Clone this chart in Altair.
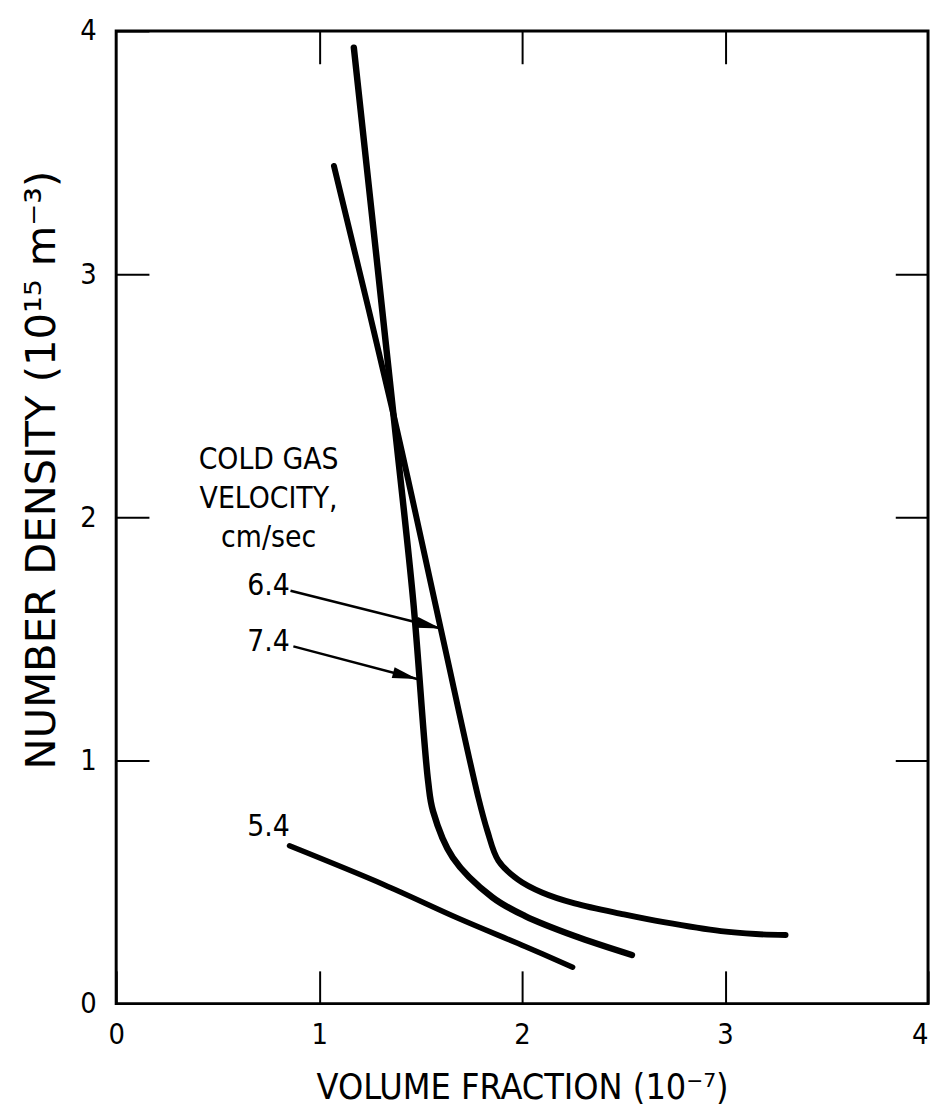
import altair as alt
import pandas as pd

# ---- data ----
series_names = ["7.4", "6.4", "5.4"]

vf_74 = [1.171, 1.366, 1.463, 1.537, 1.561, 1.659, 1.854, 2.015, 2.259, 2.541]
nd_74 = [3.931, 2.424, 1.661, 0.914, 0.792, 0.600, 0.437, 0.360, 0.278, 0.200]

vf_64 = [1.073, 1.366, 1.600, 1.785, 1.829, 1.883, 1.980, 2.098, 2.259, 2.502, 2.698, 2.980, 3.151, 3.298]
nd_64 = [3.445, 2.424, 1.539, 0.845, 0.710, 0.588, 0.510, 0.457, 0.412, 0.367, 0.335, 0.298, 0.286, 0.282]

vf_54 = [0.854, 1.317, 1.688, 2.015, 2.249]
nd_54 = [0.649, 0.490, 0.350, 0.235, 0.150]

# annotation text
label_text = ["COLD GAS", "VELOCITY,", "cm/sec", "6.4", "7.4", "5.4"]
label_x = [0.751, 0.751, 0.751, 0.751, 0.751, 0.751]
label_y = [2.200, 2.037, 1.878, 1.682, 1.449, 0.690]

# leader lines (label -> curve)
leader_x1 = [0.859, 0.873]
leader_y1 = [1.698, 1.469]
leader_x2 = [1.600, 1.483]
leader_y2 = [1.543, 1.335]
arrow_angle = [14.0, 14.8]

x_ticks = [0, 1, 2, 3, 4]
y_ticks = [0, 1, 2, 3, 4]
inner_ticks = [1, 2, 3]

# ---- tables ----
rows = []
for name, xs, ys in zip(series_names, [vf_74, vf_64, vf_54], [nd_74, nd_64, nd_54]):
    for i, (a, b) in enumerate(zip(xs, ys)):
        rows.append({"series": name, "vf": a, "nd": b, "order": i})
curves = pd.DataFrame(rows)

labels = pd.DataFrame({"text": label_text, "x": label_x, "y": label_y})
leaders = pd.DataFrame({"x1": leader_x1, "y1": leader_y1, "x2": leader_x2, "y2": leader_y2, "ang": arrow_angle})

F = "Liberation Sans Narrow, DejaVu Sans Condensed, sans-serif"
FW = "DejaVu Sans, sans-serif"

xs = alt.Scale(domain=[0, 4], nice=False, zero=False)
ys = alt.Scale(domain=[0, 4], nice=False, zero=False)

common = dict(domain=False, grid=False, tickColor="black", tickWidth=2,
              offset=-33, tickSize=33, labelFlush=False)

ax_bottom = alt.Axis(orient="bottom", values=x_ticks, labelFont=F, labelFontSize=29,
                     labelColor="black", labelPadding=17,
                     labelAlign={"condition": {"test": "datum.value == 4", "value": "right"}, "value": "center"},
                     title="VOLUME FRACTION (10⁻⁷)", titleFont=F, titleFontSize=36,
                     titleFontWeight="normal", titleColor="black", titleY=101,
                     titleBaseline="top", **common)
ax_left = alt.Axis(orient="left", values=y_ticks, labelFont=F, labelFontSize=29,
                   labelColor="black", labelPadding=20,
                   title="NUMBER DENSITY (10¹⁵ m⁻³)", titleFont=FW, titleFontSize=42,
                   titleFontWeight="normal", titleColor="black", titleAngle=270,
                   titleBaseline="bottom", titleX=-86, titleY=442, **common)
ax_top = alt.Axis(orient="top", values=inner_ticks, labels=False, title="", **common)
ax_right = alt.Axis(orient="right", values=inner_ticks, labels=False, title="", **common)

curve_layer = alt.Chart(curves).mark_line(interpolate="catmull-rom", color="black",
                                          strokeCap="round", strokeJoin="round").encode(
    x=alt.X("vf:Q", scale=xs, axis=ax_bottom),
    y=alt.Y("nd:Q", scale=ys, axis=ax_left),
    detail="series:N",
    order="order:Q",
    strokeWidth=alt.StrokeWidth("series:N", scale=alt.Scale(domain=series_names, range=[6.5, 5.5, 5.5]), legend=None),
)

leader_layer = alt.Chart(leaders).mark_rule(color="black", strokeWidth=2.5).encode(
    x=alt.X("x1:Q", scale=xs, axis=ax_top),
    y=alt.Y("y1:Q", scale=ys, axis=ax_right),
    x2="x2:Q",
    y2="y2:Q",
)

arrow_layer = alt.Chart(leaders).mark_point(
    shape="M0,0L-2,-0.45L-2,0.45Z", filled=True, size=625, color="black", opacity=1
).encode(
    x=alt.X("x2:Q", scale=xs, axis=None),
    y=alt.Y("y2:Q", scale=ys, axis=None),
    angle=alt.Angle("ang:Q", scale=None),
)

text_layer = alt.Chart(labels).mark_text(
    align="center", baseline="alphabetic", font=F, fontSize=30, color="black"
).encode(
    x=alt.X("x:Q", scale=xs, axis=None),
    y=alt.Y("y:Q", scale=ys, axis=None),
    text="text:N",
)

chart = alt.layer(curve_layer, leader_layer, arrow_layer, text_layer).properties(
    width=818, height=980,
    autosize=alt.AutoSizeParams(type="none"),
    padding={"left": 109, "top": 19, "right": 4, "bottom": 100},
    background="white",
).configure_view(stroke="black", strokeWidth=3)

chart.save("out.html", embed_options={"renderer": "svg", "actions": False})
